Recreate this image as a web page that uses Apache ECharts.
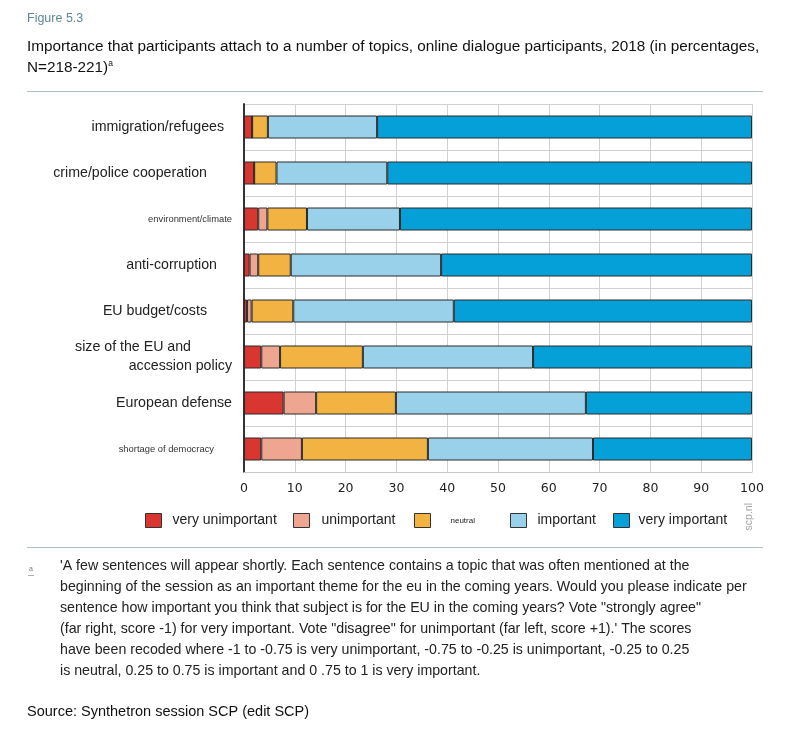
<!DOCTYPE html>
<html>
<head>
<meta charset="utf-8">
<script src="https://cdn.jsdelivr.net/npm/echarts@6/dist/echarts.min.js"></script>
<style>html,body{margin:0;padding:0;background:#fff;}#c{width:800px;height:739px;}</style>
</head>
<body>
<div id="c"></div>
<script>
var categories = ['immigration/refugees', 'crime/police cooperation', 'environment/climate', 'anti-corruption', 'EU budget/costs', 'size of the EU and\naccession policy', 'European defense', 'shortage of democracy'];
var seriesNames = ['very unimportant', 'unimportant', 'neutral', 'important', 'very important'];
var veryUnimportant = [1.6, 2.0, 2.8, 1.1, 0.6, 3.4, 7.8, 3.4];
var unimportant     = [0, 0, 1.8, 1.7, 0.9, 3.7, 6.4, 8.0];
var neutral         = [3.1, 4.4, 7.8, 6.4, 8.2, 16.3, 15.7, 24.8];
var important       = [21.5, 21.8, 18.3, 29.6, 31.6, 33.5, 37.4, 32.5];
var veryImportant   = [73.8, 71.8, 69.3, 61.2, 58.7, 43.1, 32.7, 31.3];
var xTicks = [0, 10, 20, 30, 40, 50, 60, 70, 80, 90, 100];

var colors = ['#d93531', '#eea690', '#f2b342', '#99d1ea', '#05a0d8'];
var values = [veryUnimportant, unimportant, neutral, important, veryImportant];

var FONT = 'Liberation Sans, Arial, sans-serif';
var chart = echarts.init(document.getElementById('c'));

var labelKeys = ['big20', 'big37', 'small12', 'big27', 'big37', 'size', 'big12', 'small30'];
var BIG = 14.2, SMALL = 9.4;
var rich = {
  big20: {fontSize: BIG, color: '#222', padding: [0, 8, 0, 0], fontFamily: FONT},
  big37: {fontSize: BIG, color: '#222', padding: [0, 25, 0, 0], fontFamily: FONT},
  big27: {fontSize: BIG, color: '#222', padding: [0, 15, 0, 0], fontFamily: FONT},
  big12: {fontSize: BIG, color: '#222', padding: [0, 0, 0, 0], fontFamily: FONT},
  small12: {fontSize: SMALL, color: '#333', padding: [0, 0, 0, 0], fontFamily: FONT},
  small30: {fontSize: SMALL, color: '#333', padding: [0, 18, 0, 0], fontFamily: FONT},
  s1: {fontSize: BIG, color: '#222', padding: [0, 41, 1, 0], fontFamily: FONT, lineHeight: 19},
  s2: {fontSize: BIG, color: '#222', padding: [0, 0, 0, 0], fontFamily: FONT, lineHeight: 19}
};

var legendPos = [
  {left: 140, pad: 6, size: 14},
  {left: 288, pad: 7, size: 14},
  {left: 409, pad: 15, size: 8},
  {left: 505, pad: 6, size: 14},
  {left: 608, pad: 4, size: 14}
];

var legends = seriesNames.map(function (n, i) {
  return {
    data: [n],
    left: legendPos[i].left,
    top: 508,
    itemWidth: 16,
    itemHeight: 14,
    icon: 'rect',
    selectedMode: false,
    itemStyle: {borderColor: '#333', borderWidth: 1},
    textStyle: {fontSize: legendPos[i].size, color: '#222', fontFamily: FONT, padding: [0, 0, 0, legendPos[i].pad]}
  };
});

var series = seriesNames.map(function (n, i) {
  return {
    name: n,
    type: 'bar',
    stack: 'total',
    barWidth: 23,
    data: values[i],
    itemStyle: {color: colors[i], borderColor: '#2a2a2a', borderWidth: 1},
    emphasis: {disabled: true}
  };
});

var lineStyle = {stroke: '#a9c0c8', lineWidth: 1};
var footLines = [
  "'A few sentences will appear shortly. Each sentence contains a topic that was often mentioned at the",
  "beginning of the session as an important theme for the eu in the coming years. Would you please indicate per",
  "sentence how important you think that subject is for the EU in the coming years? Vote \"strongly agree\"",
  "(far right, score -1) for very important. Vote \"disagree\" for unimportant (far left, score +1).' The scores",
  "have been recoded where -1 to -0.75 is very unimportant, -0.75 to -0.25 is unimportant, -0.25 to 0.25",
  "is neutral, 0.25 to 0.75 is important and 0 .75 to 1 is very important."
];

var graphics = [
  {type: 'text', left: 27, top: 12, style: {text: 'Figure 5.3', fontSize: 12.5, fill: '#5f8796', fontFamily: FONT}},
  {type: 'text', left: 27, top: 39, style: {text: 'Importance that participants attach to a number of topics, online dialogue participants, 2018 (in percentages,', fontSize: 15.3, fill: '#111', fontFamily: FONT}},
  {type: 'text', left: 27, top: 59, style: {text: '{m|N=218-221)}{sup|a}', fontSize: 15.3, fill: '#111', fontFamily: FONT,
    rich: {m: {fontSize: 15.3, fill: '#111', fontFamily: FONT}, sup: {fontSize: 8.5, fill: '#111', fontFamily: FONT, padding: [0, 0, 8, 0]}}}},
  {type: 'line', shape: {x1: 27, y1: 91.5, x2: 763, y2: 91.5}, style: lineStyle},
  {type: 'line', shape: {x1: 27, y1: 547.5, x2: 763, y2: 547.5}, style: lineStyle},
  {type: 'text', left: 744, top: 503, rotation: Math.PI / 2, style: {text: 'scp.nl', fontSize: 10.5, fill: '#a8a8a8', fontFamily: FONT}},
  {type: 'text', left: 29, top: 566, style: {text: 'a', fontSize: 7, fill: '#777', fontFamily: FONT}},
  {type: 'line', shape: {x1: 28, y1: 575.5, x2: 34, y2: 575.5}, style: {stroke: '#999', lineWidth: 0.8}},
  {type: 'text', left: 27, top: 704, style: {text: 'Source: Synthetron session SCP (edit SCP)', fontSize: 14.5, fill: '#111', fontFamily: FONT}}
];
footLines.forEach(function (t, i) {
  graphics.push({type: 'text', left: 60, top: 559 + i * 21, style: {text: t, fontSize: 14.2, fill: '#222', fontFamily: FONT}});
});

chart.setOption({
  animation: false,
  backgroundColor: '#fff',
  grid: {left: 244, right: 48, top: 104, height: 368, containLabel: false},
  legend: legends,
  xAxis: {
    type: 'value',
    min: 0, max: 100, interval: 10,
    axisLine: {show: true, lineStyle: {color: '#c8c8c8'}},
    axisTick: {show: false},
    splitLine: {show: true, lineStyle: {color: '#d0d0d0', width: 1}},
    axisLabel: {
      fontSize: 12.5, color: '#222', fontFamily: 'DejaVu Sans, sans-serif', margin: 10,
      formatter: function (v) { return xTicks.indexOf(v) >= 0 ? String(v) : ''; }
    }
  },
  yAxis: {
    type: 'category',
    data: categories,
    inverse: true,
    axisLine: {show: true, onZero: false, lineStyle: {color: '#333', width: 2}},
    axisTick: {show: false},
    splitLine: {show: true, lineStyle: {color: '#d0d0d0', width: 1}},
    axisLabel: {
      margin: 12,
      fontFamily: FONT,
      formatter: function (v, idx) {
        if (labelKeys[idx] === 'size') {
          var parts = v.split('\n');
          return '{s1|' + parts[0] + '}\n{s2|' + parts[1] + '}';
        }
        return '{' + labelKeys[idx] + '|' + v + '}';
      },
      rich: rich
    }
  },
  series: series,
  graphic: graphics
});
</script>
</body>
</html>
